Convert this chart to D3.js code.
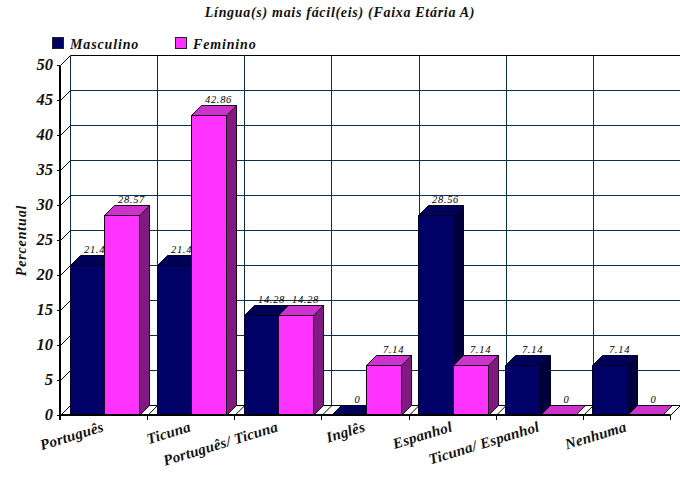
<!DOCTYPE html>
<html><head><meta charset="utf-8">
<script src="https://cdn.jsdelivr.net/npm/d3@7/dist/d3.min.js"></script>
<style>html,body{margin:0;padding:0;background:#fff}svg{display:block}
text{font-family:"Liberation Serif",serif;font-weight:bold;font-style:italic;fill:#111}
text.val{font-weight:normal;fill:#000}</style>
</head><body><svg id="c" width="680" height="500"></svg>
<script>
const categories=["Português","Ticuna","Português/ Ticuna","Inglês","Espanhol","Ticuna/ Espanhol","Nenhuma"];
const masculino=[21.43,21.43,14.28,0,28.56,7.14,7.14];
const feminino=[28.57,42.86,14.28,7.14,7.14,0,0];
const masculinoLabels=["21.43","21.43","14.28","0","28.56","7.14","7.14"];
const femininoLabels=["28.57","42.86","14.28","7.14","7.14","0","0"];
const yTicks=[0,5,10,15,20,25,30,35,40,45,50];
const seriesNames=["Masculino","Feminino"];
const titleText="Língua(s) mais fácil(eis) (Faixa Etária A)";
const yTitle="Percentual";

const depth=10, svg=d3.select("#c");
const snap=v=>Math.floor(v)+0.5;
const x=d3.scaleBand().domain(categories).range([60.5,670.5]);
const bar=d3.scaleBand().domain(seriesNames).range([9.6,78.6]);
const y=d3.scaleLinear().domain([0,50]).range([415.5,65.5]);
const grid="#0b2f4f", right=680;

// back wall grid
yTicks.filter(t=>t>0).forEach(t=>{
  svg.append("line").attr("x1",x.range()[0]+depth).attr("x2",right).attr("y1",y(t)-depth).attr("y2",y(t)-depth)
    .attr("stroke",t===50?"#000":grid).attr("stroke-width",1);
});
categories.forEach(c=>{
  const gx=snap(x(c)+depth);
  svg.append("line").attr("x1",gx).attr("x2",gx).attr("y1",y(50)-depth).attr("y2",y(0)-depth)
    .attr("stroke",grid).attr("stroke-width",1);
});
svg.append("line").attr("x1",x.range()[0]+depth).attr("x2",right).attr("y1",y(0)-depth).attr("y2",y(0)-depth).attr("stroke","#000");
// side wall diagonals
yTicks.forEach(t=>{
  svg.append("line").attr("x1",x.range()[0]).attr("x2",x.range()[0]+depth).attr("y1",y(t)).attr("y2",y(t)-depth).attr("stroke","#000").attr("stroke-width",1);
});
// floor diagonals
categories.concat([null]).forEach(c=>{
  const px=c===null?x.range()[1]:x(c);
  svg.append("line").attr("x1",px).attr("x2",px+depth).attr("y1",y(0)).attr("y2",y(0)-depth).attr("stroke","#000").attr("stroke-width",1);
});

function drawBar(cat,name,v,label,face,top,side){
  const bx=snap(x(cat)+bar(name)), w=Math.round(bar.bandwidth()), ty=snap(y(v)), by=y(0);
  const g=svg.append("g").attr("stroke",name==="Masculino"?"#00001f":"#1a001a").attr("stroke-width",1).attr("stroke-linejoin","miter");
  g.append("path").attr("d",d3.line()([[bx+w,ty],[bx+w+depth,ty-depth],[bx+w+depth,by-depth],[bx+w,by]])).attr("fill",side);
  g.append("path").attr("d",d3.line()([[bx,ty],[bx+depth,ty-depth],[bx+w+depth,ty-depth],[bx+w,ty]])+"Z").attr("fill",top);
  if(v>0) g.append("rect").attr("x",bx).attr("y",ty).attr("width",w).attr("height",by-ty).attr("fill",face);
  svg.append("text").attr("class","val").attr("x",bx+w/2+(label==="0"?8.5:9.5)).attr("y",ty-depth-2.5).attr("text-anchor","middle")
    .attr("font-size",10.5).attr("letter-spacing",0.7).text(label);
}
categories.forEach((c,i)=>{
  drawBar(c,"Masculino",masculino[i],masculinoLabels[i],"#000066","#000059","#00003d");
  drawBar(c,"Feminino",feminino[i],femininoLabels[i],"#ff33ff","#cc33cc","#801a80");
});

// axes
const ax=x.range()[0]-0.5, ay=y(0)-0.5;
svg.append("line").attr("x1",ax).attr("x2",ax).attr("y1",y(50)).attr("y2",ay+5).attr("stroke","#000").attr("stroke-width",2);
svg.append("line").attr("x1",ax).attr("x2",x.range()[1]).attr("y1",ay).attr("y2",ay).attr("stroke","#000").attr("stroke-width",2);
categories.concat([null]).forEach(c=>{
  const px=c===null?x.range()[1]:x(c);
  svg.append("line").attr("x1",snap(px)).attr("x2",snap(px)).attr("y1",ay).attr("y2",ay+5).attr("stroke","#000");
});
yTicks.forEach(t=>{
  svg.append("line").attr("x1",ax-3).attr("x2",ax).attr("y1",y(t)).attr("y2",y(t)).attr("stroke","#000");
  svg.append("text").attr("x",53).attr("y",y(t)+4.5).attr("text-anchor","end").attr("font-size",16.5).text(t);
});
categories.forEach(c=>{
  const cx=x(c)+x.bandwidth()/2+0.5;
  svg.append("text").attr("transform",`translate(${cx},431) rotate(-17)`).attr("text-anchor","end")
    .attr("font-size",15).attr("letter-spacing",0.25).text(c);
});

// titles
svg.append("text").attr("x",340).attr("y",17).attr("text-anchor","middle").attr("font-size",14).attr("letter-spacing",0.7).text(titleText);
svg.append("text").attr("transform","translate(26,240.5) rotate(-90)").attr("text-anchor","middle").attr("font-size",14).attr("letter-spacing",0.85).text(yTitle);

// legend
const lx=d3.scaleOrdinal().domain(seriesNames).range([52,175]);
const lc=d3.scaleOrdinal().domain(seriesNames).range(["#000066","#ff33ff"]);
seriesNames.forEach(n=>{
  svg.append("rect").attr("x",lx(n)+0.5).attr("y",37.5).attr("width",11).attr("height",11).attr("fill",lc(n)).attr("stroke","#222");
  svg.append("text").attr("x",lx(n)+18).attr("y",49).attr("font-size",14).attr("letter-spacing",0.85).text(n);
});
</script></body></html>
